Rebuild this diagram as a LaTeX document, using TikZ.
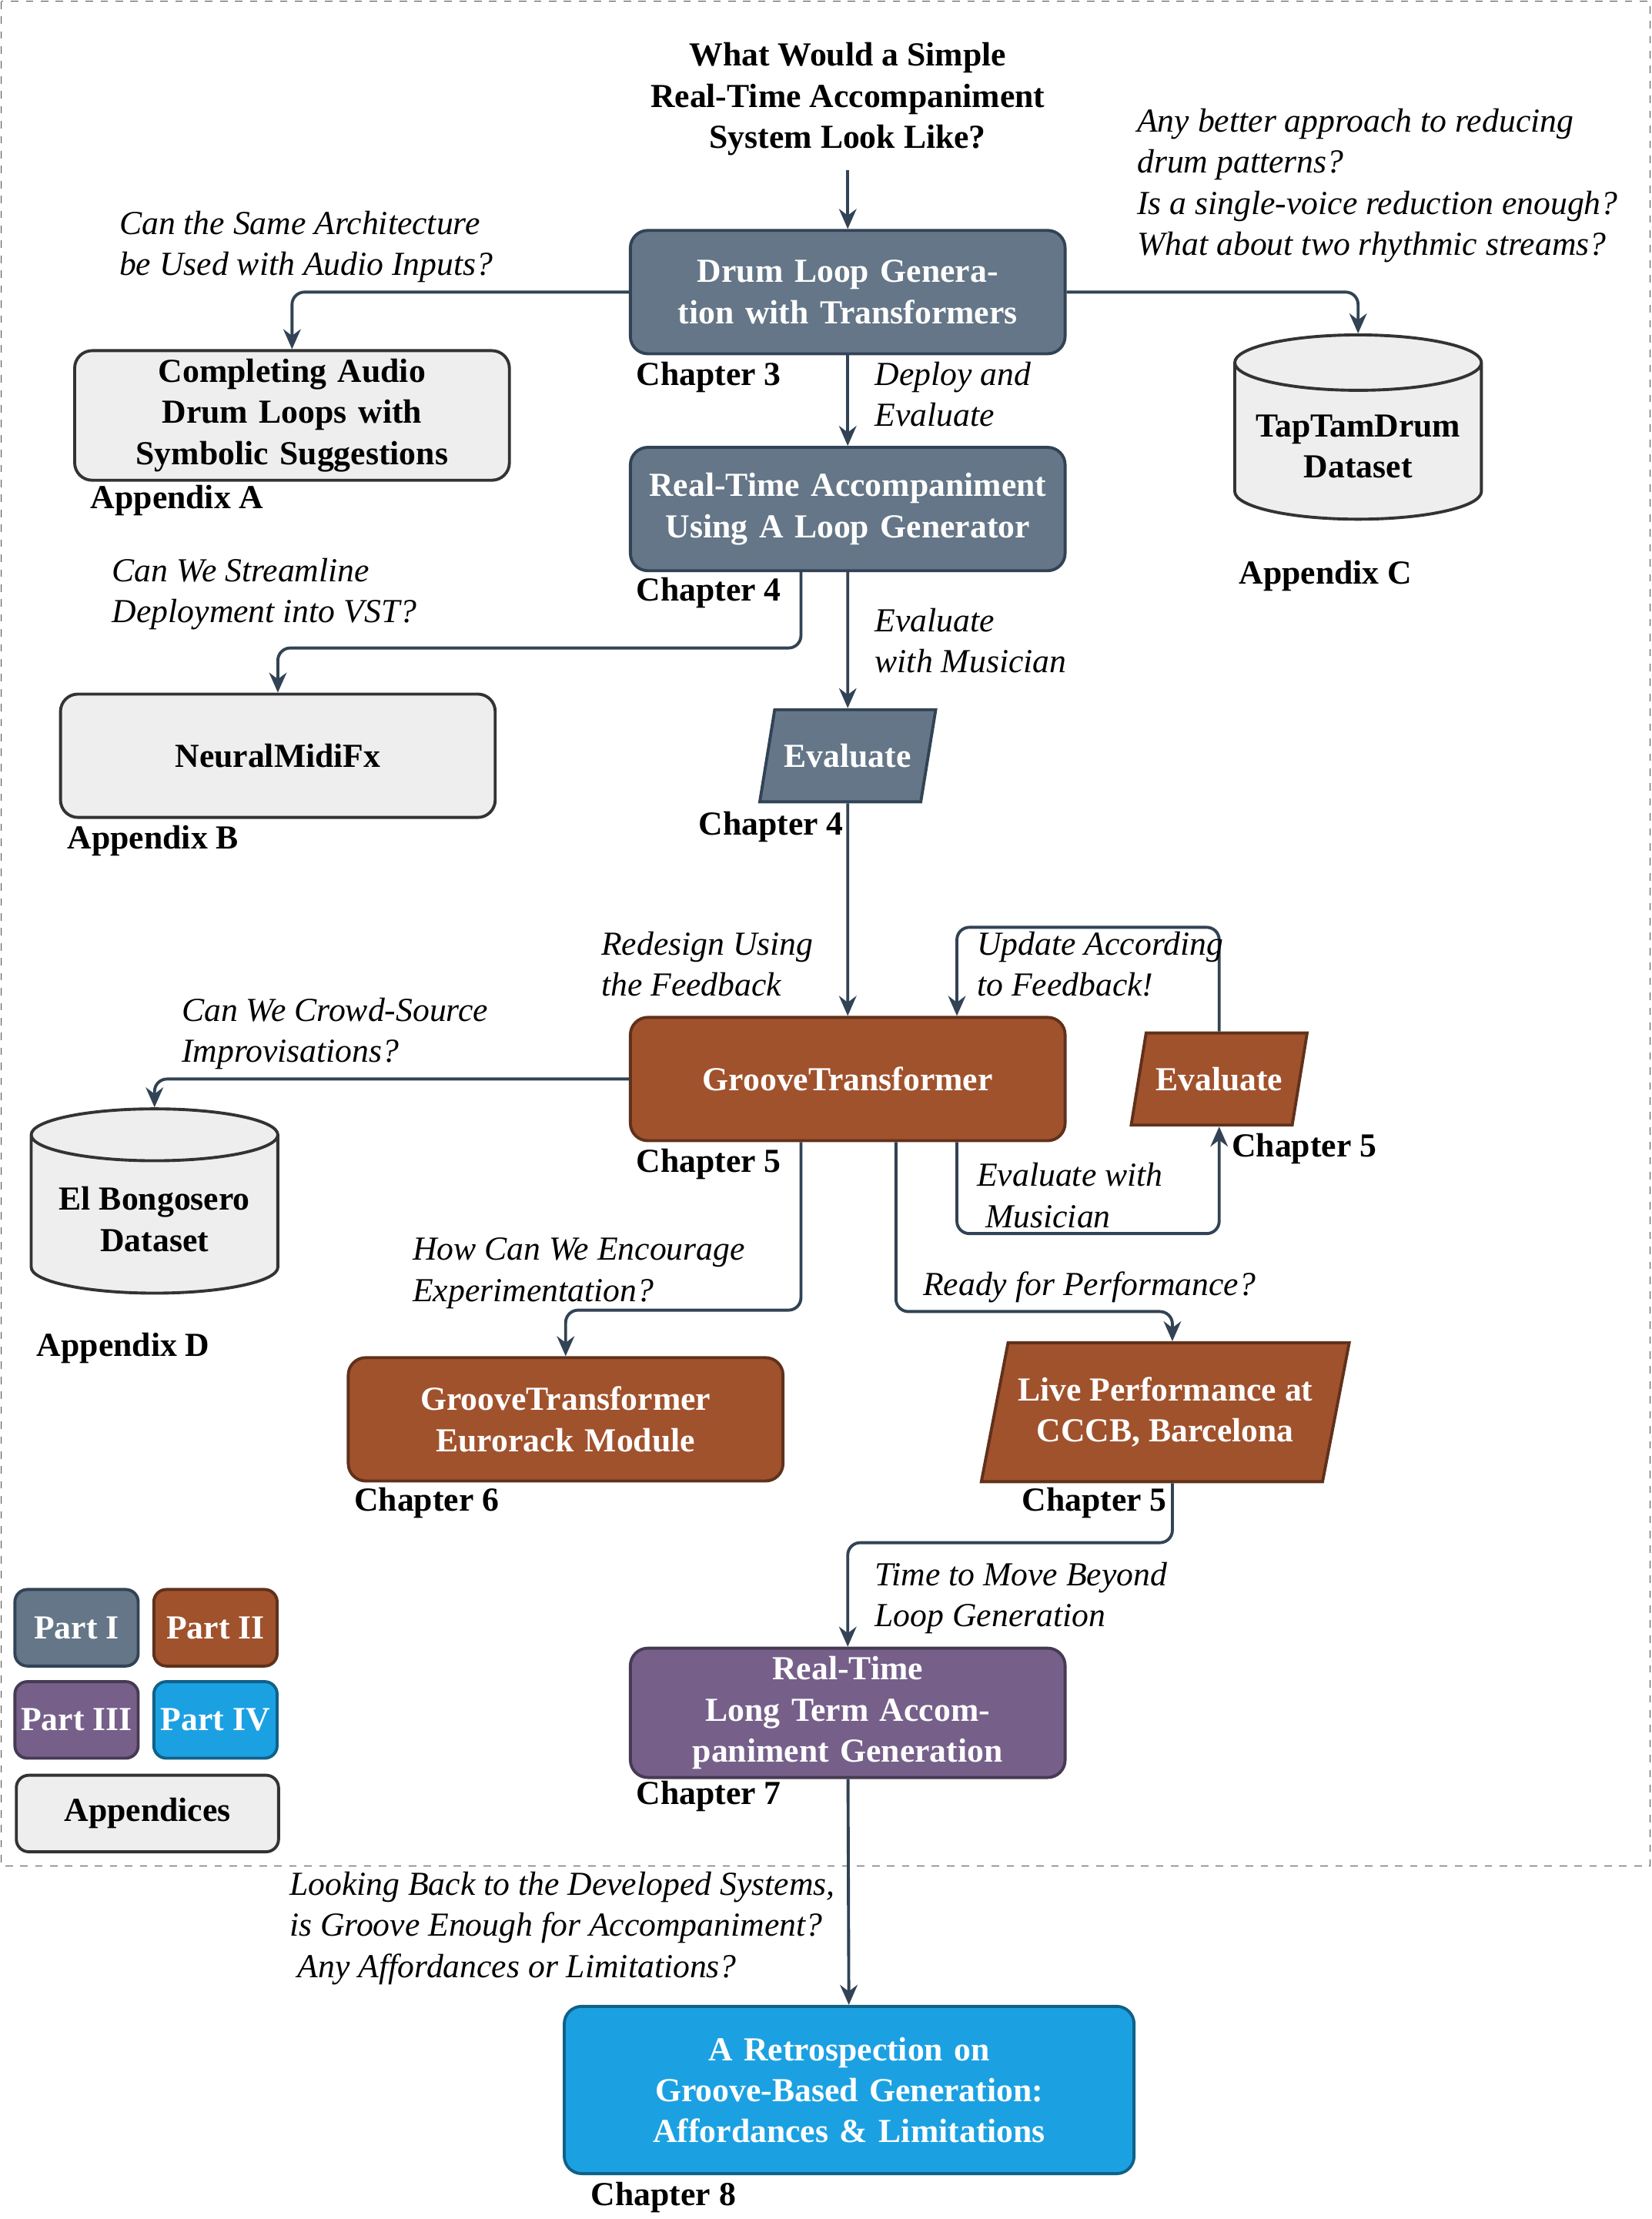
\documentclass[tikz,border=0pt]{standalone}
\usepackage{fontspec}
\setmainfont{Liberation Serif}
\usetikzlibrary{shapes.geometric,arrows.meta}
\definecolor{slate}{HTML}{647687}
\definecolor{brown}{HTML}{A0522D}
\definecolor{plum}{HTML}{76608A}
\definecolor{sky}{HTML}{1BA1E2}
\definecolor{lgray}{HTML}{EEEEEE}
\definecolor{edge}{HTML}{314354}
\tikzset{
  base/.style={draw, line width=1.2pt, align=center, font=\bfseries\fontsize{13.5}{16.5}\selectfont},
  box/.style={base, rectangle, rounded corners=7pt, minimum width=6.08cm, minimum height=1.74cm, text width=5.9cm},
  slatebox/.style={box, fill=slate, draw=edge, text=white},
  brownbox/.style={box, fill=brown, draw=brown!60!black, text=white},
  graybox/.style={box, fill=lgray, draw=black!80},
  para/.style={base, trapezium, trapezium stretches=true, trapezium left angle=70, trapezium right angle=110, text=white},
  drum/.style={base, cylinder, shape border rotate=90, aspect=0.25, fill=lgray, draw=black!80, minimum width=3.48cm, minimum height=2.6cm},
  leg/.style={base, rectangle, rounded corners=5pt, minimum width=1.74cm, minimum height=1.08cm, text=white, inner sep=1pt},
  chap/.style={font=\bfseries\fontsize{13.5}{16.5}\selectfont},
  ask/.style={anchor=west, align=left, font=\itshape\fontsize{13.5}{16.5}\selectfont},
  flow/.style={draw=edge, line width=1.2pt, -{Stealth[length=8pt,width=7pt]}, rounded corners=5pt}
}
\begin{document}
\begin{tikzpicture}[x=0.02cm,y=-0.02cm]
\useasboundingbox (0,0) rectangle (1165,1565);
\draw[dashed, black!70] (1,1) rectangle (1164,1316);

% nodes
\node[chap, align=center] (title) at (598,70) {What Would a Simple\\Real-Time Accompaniment\\System Look Like?};
\node[slatebox] (dlg) at (598,206) {Drum Loop Generation with Transformers};
\node[graybox] (audio) at (206,293) {Completing Audio Drum Loops with Symbolic Suggestions};
\node[drum] (taptam) at (958,315) {TapTamDrum\\Dataset};
\node[slatebox] (rt) at (598,359) {Real-Time Accompaniment Using A Loop Generator};
\node[graybox] (neural) at (196,533) {NeuralMidiFx};
\node[para, fill=slate, draw=edge, minimum width=2.5cm, minimum height=1.3cm] (evalA) at (598,533) {Evaluate};
\node[brownbox] (gt) at (598,761) {GrooveTransformer};
\node[para, fill=brown, draw=brown!60!black, minimum width=2.5cm, minimum height=1.3cm] (evalB) at (860,761) {Evaluate};
\node[drum] (bongo) at (109,860) {El Bongosero\\Dataset};
\node[brownbox] (euro) at (399,1001) {GrooveTransformer Eurorack Module};
\node[para, fill=brown, draw=brown!60!black, minimum width=5.2cm, minimum height=1.96cm, trapezium left angle=73, trapezium right angle=107] (live) at (822,996) {Live Performance at\\CCCB, Barcelona};
\node[box, fill=plum, draw=plum!60!black, text=white] (lt) at (598,1208) {Real-Time\\Long Term Accompaniment Generation};
\node[box, fill=sky, draw=sky!60!black, text=white, minimum width=8.04cm, minimum height=2.36cm, text width=7.6cm] (retro) at (599,1474) {A Retrospection on Groove-Based Generation:\\Affordances \& Limitations};

% legend
\node[leg, fill=slate, draw=edge] (p1) at (54,1148) {Part I};
\node[leg, fill=brown, draw=brown!60!black] (p2) at (152,1148) {Part II};
\node[leg, fill=plum, draw=plum!60!black] (p3) at (54,1213) {Part III};
\node[leg, fill=sky, draw=sky!60!black] (p4) at (152,1213) {Part IV};
\node[leg, fill=lgray, draw=black!80, text=black, minimum width=3.7cm] (app) at (104,1279) {Appendices};

% chapter labels
\node[chap] (c3) at (500,266) {Chapter 3};
\node[chap] (aA) at (125,353) {Appendix A};
\node[chap] (aC) at (935,406) {Appendix C};
\node[chap] (c4) at (500,418) {Chapter 4};
\node[chap] (aB) at (108,593) {Appendix B};
\node[chap] (c4b) at (544,583) {Chapter 4};
\node[chap] (c5) at (500,821) {Chapter 5};
\node[chap] (c5b) at (920,810) {Chapter 5};
\node[chap] (aD) at (87,951) {Appendix D};
\node[chap] (c6) at (301,1060) {Chapter 6};
\node[chap] (c5c) at (772,1060) {Chapter 5};
\node[chap] (c7) at (500,1267) {Chapter 7};
\node[chap] (c8) at (468,1550) {Chapter 8};

% connectors
\coordinate (t1) at (598,120);
\draw[flow] (t1) -- (dlg);
\draw[flow] (dlg.west) -| (audio.north);
\draw[flow] (dlg.east) -| (taptam.north);
\draw[flow] (dlg) -- (rt);
\draw[flow] (rt.south -| 565,0) -- (565,457) -| (neural.north);
\draw[flow] (rt) -- (evalA);
\draw[flow] (evalA) -- (gt);
\draw[flow] (gt.west) -| (bongo.north);
\draw[flow] (gt.south -| 675,0) -- (675,870) -| (evalB.south);
\draw[flow] (evalB.north) -- (860,654) -| (gt.north -| 675,0);
\draw[flow] (gt.south -| 565,0) -- (565,924) -| (euro.north);
\draw[flow] (gt.south -| 632,0) -- (632,925) -| (live.north -| 827,0);
\draw[flow] (live.south -| 827,0) -- (827,1088) -| (lt.north);
\draw[flow] (lt) -- (retro);

% questions
\node[ask] at (78,174) {Can the Same Architecture\\be Used with Audio Inputs?};
\node[ask] at (796,131) {Any better approach to reducing\\drum patterns?\\Is a single-voice reduction enough?\\What about two rhythmic streams?};
\node[ask] at (611,278) {Deploy and\\Evaluate};
\node[ask] at (73,419) {Can We Streamline\\Deployment into VST?};
\node[ask] at (611,452) {Evaluate\\with Musician};
\node[ask] at (418,680) {Redesign Using\\the Feedback};
\node[ask] at (122,729) {Can We Crowd-Source\\Improvisations?};
\node[ask] at (683,680) {Update According\\to Feedback!};
\node[ask] at (683,843) {Evaluate with\\\ Musician};
\node[ask] at (285,898) {How Can We Encourage\\Experimentation?};
\node[ask] at (645,908) {Ready for Performance?};
\node[ask] at (611,1127) {Time to Move Beyond\\Loop Generation};
\node[ask] at (198,1360) {Looking Back to the Developed Systems,\\is Groove Enough for Accompaniment?\\\ Any Affordances or Limitations?};
\end{tikzpicture}
\end{document}
